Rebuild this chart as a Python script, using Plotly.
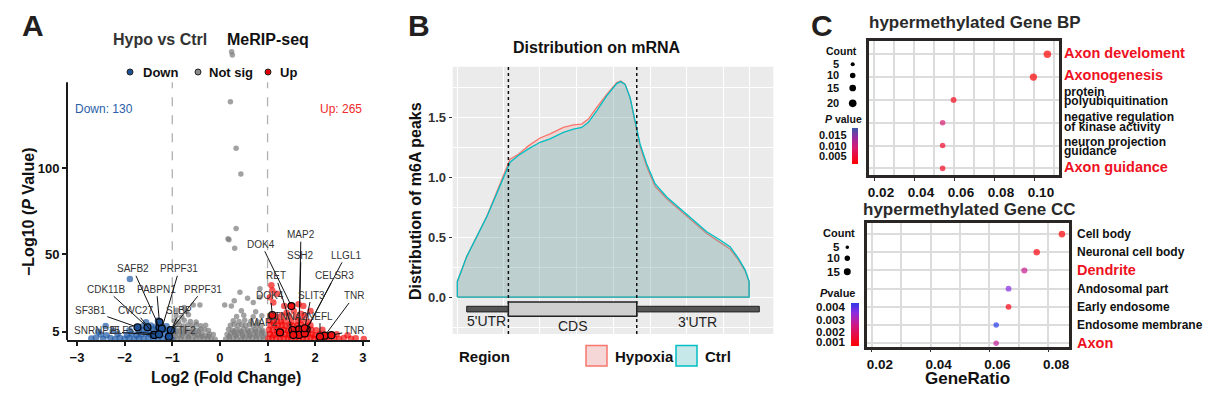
import math
import plotly.graph_objects as go

W, H = 1213, 398
FONT = "Liberation Sans, Arial, sans-serif"


def fx(px):
    return px / W


def fy(py):
    return 1 - py / H


# ======================= DATA =======================
# ---- Panel A: volcano (log2FC, -log10 P) ----
gray_pts = [
    (-0.98, 1.2), (-0.9, 0.6), (-0.82, 1.5), (-0.74, 0.8), (-0.66, 1.3), (-0.58, 0.5), (-0.5, 1.1), (-0.42, 1.6),
    (-0.34, 0.7), (-0.26, 1.2), (-0.18, 0.9), (-0.1, 0.6), (0.12, 0.8), (0.2, 1.4), (0.28, 0.7), (0.36, 1.2),
    (0.44, 0.5), (0.52, 1.5), (0.6, 0.9), (0.68, 1.3), (0.76, 0.6), (0.84, 1.1), (0.92, 0.8),
    (-0.95, 3.8), (-0.86, 3.2), (-0.78, 4.0), (-0.7, 3.5), (-0.62, 3.1), (-0.54, 3.9), (-0.46, 3.4), (-0.38, 3.7),
    (-0.3, 3.0), (-0.22, 3.6), (-0.14, 3.3), (0.15, 3.5), (0.23, 3.9), (0.31, 3.2), (0.39, 3.7), (0.47, 3.4),
    (0.55, 4.0), (0.63, 3.1), (0.71, 3.6), (0.79, 3.3), (0.87, 3.8), (0.95, 3.5),
    (-0.97, 6.2), (-0.88, 5.8), (-0.8, 6.5), (-0.72, 6.0), (-0.64, 5.6), (-0.56, 6.3), (-0.48, 5.9), (-0.4, 6.6),
    (-0.32, 6.1), (-0.24, 5.7), (0.18, 6.4), (0.26, 5.9), (0.34, 6.2), (0.42, 5.6), (0.5, 6.5), (0.58, 6.0),
    (0.66, 5.8), (0.74, 6.3), (0.82, 6.1), (0.9, 5.7),
    (-0.94, 8.6), (-0.85, 9.1), (-0.76, 8.3), (-0.67, 8.9), (-0.58, 8.5), (-0.49, 9.2), (-0.4, 8.4), (-0.3, 8.8),
    (0.22, 8.7), (0.3, 9.3), (0.38, 8.4), (0.46, 9.0), (0.54, 8.6), (0.62, 9.2), (0.7, 8.5), (0.78, 8.9), (0.86, 8.3),
    (-0.96, 11.2), (-0.87, 10.8), (-0.75, 11.6), (-0.62, 11.0), (-0.5, 10.6), (0.28, 11.4), (0.4, 10.9),
    (0.52, 11.7), (0.65, 11.1), (0.8, 10.7),
    (-0.92, 14.2), (-0.8, 13.6), (-0.66, 14.8), (0.35, 13.9), (0.5, 14.5), (0.7, 13.7), (0.88, 14.3),
    (-0.9, 17.5), (-0.7, 16.8), (0.45, 17.2), (0.75, 16.6),
    (-0.94, 2.3), (-0.8, 2.5), (-0.66, 2.2), (-0.52, 2.6), (-0.38, 2.3), (-0.24, 2.4), (0.2, 2.3), (0.34, 2.6),
    (0.48, 2.2), (0.62, 2.5), (0.76, 2.3), (0.9, 2.4), (-0.9, 4.9), (-0.74, 5.0), (-0.58, 4.8), (-0.44, 5.1),
    (0.3, 4.9), (0.45, 5.0), (0.6, 4.8), (0.75, 5.1), (0.88, 4.9),
    (-0.56, 20.5), (-0.42, 20.5), (-0.75, 19.0), (0.1, 20.5), (0.24, 20.0), (0.42, 28.0), (0.58, 24.5),
    (0.84, 30.0), (0.84, 25.0), (0.3, 23.0), (0.7, 22.0), (0.31, 53.5), (0.17, 59.0), (0.19, 58.5),
    (0.34, 65.0), (0.44, 96.7), (0.34, 111.6), (0.22, 138.7), (0.245, 167.8), (0.26, 165.9),
]
down_pts = [
    (-2.7, 1.0), (-2.6, 1.6), (-2.45, 0.7), (-2.3, 1.3), (-2.2, 0.8), (-2.1, 1.5), (-2.0, 0.9), (-1.9, 1.4),
    (-1.8, 0.6), (-1.7, 1.2), (-1.6, 0.8), (-1.5, 1.5), (-1.4, 0.7), (-1.3, 1.3), (-1.2, 0.9), (-1.1, 1.4),
    (-1.02, 0.8),
    (-2.5, 3.4), (-2.38, 2.9), (-2.15, 3.6), (-1.95, 3.1), (-1.85, 3.8), (-1.75, 3.0), (-1.65, 3.5),
    (-1.55, 3.9), (-1.45, 3.2), (-1.35, 3.7), (-1.25, 3.0), (-1.15, 3.6), (-1.05, 3.3),
    (-2.25, 5.6), (-1.9, 5.9), (-1.7, 5.4), (-1.6, 6.1), (-1.48, 5.7), (-1.38, 6.3), (-1.28, 5.5),
    (-1.18, 6.0), (-1.08, 5.8),
    (-1.62, 8.2), (-1.45, 8.6), (-1.35, 7.9), (-1.22, 8.4), (-1.12, 8.1),
    (-2.4, 8.3), (-2.55, 5.0), (-1.55, 10.5), (-1.3, 11.5), (-1.89, 35.6),
]
up_pts = [
    (1.02, 1.0), (1.1, 1.6), (1.18, 0.7), (1.26, 1.3), (1.34, 0.8), (1.42, 1.5), (1.5, 0.9), (1.58, 1.4),
    (1.66, 0.6), (1.74, 1.2), (1.82, 0.8), (1.9, 1.5), (1.98, 0.7), (2.06, 1.3), (2.14, 0.9), (2.22, 1.4),
    (2.3, 0.8), (2.4, 1.2), (2.5, 0.7), (2.6, 1.3), (2.75, 0.9), (2.85, 1.2), (3.02, 0.8),
    (1.05, 3.6), (1.13, 3.1), (1.21, 3.9), (1.29, 3.3), (1.37, 3.7), (1.45, 3.0), (1.53, 3.8), (1.61, 3.2),
    (1.69, 3.6), (1.77, 3.1), (1.85, 3.9), (1.93, 3.4), (2.0, 3.0), (2.1, 3.7), (2.2, 3.2), (2.45, 3.5),
    (2.68, 3.0),
    (1.03, 6.1), (1.11, 5.7), (1.19, 6.4), (1.27, 5.9), (1.35, 6.2), (1.43, 5.6), (1.51, 6.3), (1.59, 5.8),
    (1.67, 6.5), (1.75, 6.0), (1.83, 5.7), (1.92, 6.2), (2.02, 5.9), (2.15, 6.1),
    (1.06, 8.6), (1.14, 9.1), (1.22, 8.4), (1.3, 8.9), (1.38, 8.3), (1.46, 9.2), (1.54, 8.5), (1.62, 8.8),
    (1.7, 9.0), (1.8, 8.4), (1.9, 8.8),
    (1.04, 11.2), (1.12, 10.8), (1.2, 11.5), (1.28, 11.0), (1.36, 11.4), (1.5, 10.9), (1.64, 11.3),
    (1.72, 11.6), (1.85, 10.8),
    (1.08, 14.2), (1.18, 13.8), (1.3, 14.5), (1.45, 14.0), (1.6, 13.7), (1.78, 14.4),
    (1.08, 32.0), (1.1, 29.0), (1.2, 27.0), (1.05, 25.0), (1.12, 22.0), (1.35, 20.0), (1.55, 17.0),
    (1.7, 15.5), (1.75, 20.0), (1.4, 16.0), (1.65, 21.0), (1.9, 17.0),
]
down_genes = ["SF3B1", "CDK11B", "SAFB2", "PABPN1", "PRPF31", "PRPF31", "CWC27", "SLBP", "SNRNP25", "ELF5", "TTF2"]
down_gx = [-1.73, -1.52, -1.27, -1.27, -1.22, -1.03, -1.38, -1.07, -1.38, -1.28, -1.03]
down_gy = [7.6, 7.6, 7.6, 10.6, 6.8, 6.0, 3.1, 2.1, 3.1, 3.5, 6.0]
up_genes = ["DOK4", "MAP2", "SSH2", "LLGL1", "RET", "CELSR3", "DOK4", "SLIT3", "TNR", "MAP2", "CTNNA2", "NEFL", "TNR"]
up_gx = [1.5, 1.66, 1.66, 1.82, 1.52, 1.78, 1.1, 1.78, 2.2, 1.26, 1.54, 2.1, 2.34]
up_gy = [19.9, 6.4, 3.1, 6.4, 6.0, 4.0, 14.7, 7.0, 2.7, 4.6, 3.1, 2.1, 3.0]
n_down, n_up = 130, 265
fc_cut = 1

# ---- Panel B: metagene density ----
meta_x = [0, 3.2, 6.63, 10.06, 13.49, 16.34, 18.06, 20.91, 24.34, 28.34, 31.77, 36.34, 39.77, 42.63, 44.91,
          47.77, 51.2, 54.63, 56.0, 57.49, 59.2, 60.91, 62.63, 64.91, 67.77, 71.77, 76.34, 80.91, 85.49,
          90.06, 93.49, 96.34, 98.63, 100]
ctrl_d = [0.13, 0.337, 0.503, 0.668, 0.862, 1.028, 1.124, 1.18, 1.235, 1.29, 1.318, 1.373, 1.40, 1.414, 1.456,
          1.552, 1.677, 1.779, 1.796, 1.773, 1.663, 1.47, 1.276, 1.11, 0.945, 0.834, 0.738, 0.641, 0.544,
          0.475, 0.42, 0.323, 0.227, 0.13]
hypo_d = [0.13, 0.337, 0.503, 0.672, 0.876, 1.055, 1.15, 1.19, 1.26, 1.326, 1.36, 1.414, 1.436, 1.442, 1.483,
          1.58, 1.69, 1.787, 1.80, 1.775, 1.66, 1.456, 1.254, 1.088, 0.923, 0.82, 0.724, 0.622, 0.53,
          0.456, 0.40, 0.31, 0.218, 0.13]
cds_start, cds_end = 17.49, 61.49
track_start, track_end = 3.2, 103.5
region_names = ["5'UTR", "CDS", "3'UTR"]

# ---- Panel C: GO enrichment ----
bp_terms = ["Axon develoment", "Axonogenesis", "protein polyubiquitination",
            "negative regulation of kinase activity", "neuron projection guidance", "Axon guidance"]
bp_ratio = [0.1067, 0.0997, 0.0598, 0.0543, 0.0543, 0.0543]
bp_count = [19, 18, 11, 10, 10, 10]
bp_p = [0.0013, 0.0015, 0.003, 0.009, 0.004, 0.0035]
bp_highlight = ["Axon develoment", "Axonogenesis", "Axon guidance"]
bp_wrap = {"protein polyubiquitination": ["protein", "polyubiquitination"],
           "negative regulation of kinase activity": ["negative regulation", "of kinase activity"],
           "neuron projection guidance": ["neuron projection", "guidance"]}
bp_count_legend = [5, 10, 15, 20]
bp_p_ticks = [0.015, 0.010, 0.005]

cc_terms = ["Cell body", "Neuronal cell body", "Dendrite", "Andosomal part", "Early endosome",
            "Endosome membrane", "Axon"]
cc_ratio = [0.0847, 0.0761, 0.0719, 0.0665, 0.0665, 0.0623, 0.0623]
cc_count = [14, 13, 12, 11, 11, 10, 10]
cc_p = [0.0007, 0.0008, 0.0026, 0.0036, 0.0009, 0.0044, 0.0027]
cc_highlight = ["Dendrite", "Axon"]
cc_count_legend = [5, 10, 15]
cc_p_ticks = [0.004, 0.003, 0.002, 0.001]

# ======================= STYLE =======================
BLUE, RED, GRAY = "#1f5aa6", "#f20000", "#7a7a7a"
DARK = "#1a1a1a"
BP_SCALE = [[0, "#ff0000"], [0.45, "#d81a70"], [0.72, "#9a2a9e"], [1, "#3a55a8"]]
CC_SCALE = [[0, "#ff0000"], [0.5, "#cc1a88"], [0.78, "#8a2be2"], [1, "#2a3ae8"]]


def bp_size(c):
    return 1.6 * math.sqrt(c) + 0.5


def cc_size(c):
    return 2.05 * math.sqrt(c) - 1.0


fig = go.Figure()

# ---------- Panel A traces ----------
fig.add_trace(go.Scatter(x=[p[0] for p in gray_pts], y=[p[1] for p in gray_pts], mode="markers",
                         marker=dict(size=5.5, color=GRAY, opacity=0.7, line_width=0),
                         xaxis="x", yaxis="y", showlegend=False, hoverinfo="skip"))
fig.add_trace(go.Scatter(x=[p[0] for p in down_pts], y=[p[1] for p in down_pts], mode="markers",
                         marker=dict(size=6.5, color=BLUE, opacity=0.7, line_width=0),
                         xaxis="x", yaxis="y", showlegend=False, hoverinfo="skip"))
fig.add_trace(go.Scatter(x=[p[0] for p in up_pts], y=[p[1] for p in up_pts], mode="markers",
                         marker=dict(size=6.5, color=RED, opacity=0.65, line_width=0),
                         xaxis="x", yaxis="y", showlegend=False, hoverinfo="skip"))
fig.add_trace(go.Scatter(x=down_gx, y=down_gy, mode="markers",
                         marker=dict(size=7, color="#1d4f94", line=dict(color="black", width=1.2)),
                         xaxis="x", yaxis="y", showlegend=False, hoverinfo="skip"))
fig.add_trace(go.Scatter(x=up_gx, y=up_gy, mode="markers",
                         marker=dict(size=7, color="#ee1111", line=dict(color="black", width=1.2)),
                         xaxis="x", yaxis="y", showlegend=False, hoverinfo="skip"))

# ---------- Panel B traces ----------
fig.add_trace(go.Scatter(x=[0] + meta_x + [100, 0], y=[0] + hypo_d + [0, 0], mode="lines",
                         fill="toself", fillcolor="rgba(248,118,109,0.2)",
                         line=dict(color="#f8766d", width=1.3), xaxis="x2", yaxis="y2",
                         showlegend=False, hoverinfo="skip"))
fig.add_trace(go.Scatter(x=[0] + meta_x + [100, 0], y=[0] + ctrl_d + [0, 0], mode="lines",
                         fill="toself", fillcolor="rgba(0,191,196,0.2)",
                         line=dict(color="#00bfc4", width=1.3), xaxis="x2", yaxis="y2",
                         showlegend=False, hoverinfo="skip"))

# ---------- Panel C traces ----------
nbp = len(bp_terms)
bp_y = [nbp - 1 - i for i in range(nbp)]
fig.add_trace(go.Scatter(x=bp_ratio, y=bp_y, mode="markers", xaxis="x3", yaxis="y3",
                         marker=dict(size=[bp_size(c) for c in bp_count], color=bp_p,
                                     colorscale=BP_SCALE, cmin=0.0012, cmax=0.0182, line_width=0,
                                     showscale=True,
                                     colorbar=dict(x=fx(851.7), xanchor="left", y=fy(146.2),
                                                   yanchor="middle", len=35.7, lenmode="pixels",
                                                   thickness=5.6, thicknessmode="pixels",
                                                   showticklabels=False, ticks="", outlinewidth=0,
                                                   xpad=0, ypad=0)),
                         showlegend=False, hoverinfo="skip"))
ncc = len(cc_terms)
cc_y = [ncc - 1 - i for i in range(ncc)]
fig.add_trace(go.Scatter(x=cc_ratio, y=cc_y, mode="markers", xaxis="x4", yaxis="y4",
                         marker=dict(size=[cc_size(c) for c in cc_count], color=cc_p,
                                     colorscale=CC_SCALE, cmin=0.00065, cmax=0.0044, line_width=0,
                                     showscale=True,
                                     colorbar=dict(x=fx(850.7), xanchor="left", y=fy(324.3),
                                                   yanchor="middle", len=43.3, lenmode="pixels",
                                                   thickness=7.6, thicknessmode="pixels",
                                                   showticklabels=False, ticks="", outlinewidth=0,
                                                   xpad=0, ypad=0)),
                         showlegend=False, hoverinfo="skip"))

tickfont = dict(family=FONT, size=13, color="#111", weight="bold")

layout = dict(
    width=W, height=H, margin=dict(l=0, r=0, t=0, b=0, autoexpand=False),
    paper_bgcolor="white", plot_bgcolor="rgba(0,0,0,0)",
    font=dict(family=FONT, color="#111"),
    # Panel A
    xaxis=dict(domain=[fx(67), fx(370)], range=[-3.21, 3.15], anchor="y",
               tickvals=[-3, -2, -1, 0, 1, 2, 3], ticktext=["\u22123", "\u22122", "\u22121", "0", "1", "2", "3"],
               ticks="outside", ticklen=4, tickwidth=1.5, tickcolor=DARK, showgrid=False, zeroline=False,
               showline=True, linewidth=2, linecolor=DARK, tickfont=tickfont, automargin=False),
    yaxis=dict(domain=[fy(340.3), fy(44.5)], range=[0, 172], anchor="x",
               tickvals=[5, 50, 100], ticks="outside", ticklen=4, tickwidth=1.5, tickcolor=DARK,
               showgrid=False, zeroline=False, showline=False, tickfont=tickfont, automargin=False),
    # Panel B
    xaxis2=dict(domain=[fx(452.7), fx(773.3)], range=[-1.6, 108.3], anchor="y2",
                showticklabels=False, ticks="", tickvals=[0, 28.3, 53.5, 78.6, 100],
                showgrid=True, gridcolor="white", gridwidth=1.3, zeroline=False, showline=False,
                minor=dict(tickvals=[15.7, 40.9, 66.1, 91.2], showgrid=True, gridcolor="white",
                           gridwidth=0.6, ticks=""), automargin=False),
    yaxis2=dict(domain=[fy(334), fy(66.7)], range=[-0.308, 1.92], anchor="x2",
                tickvals=[0, 0.5, 1, 1.5], ticktext=["0.0", "0.5", "1.0", "1.5"],
                ticks="outside", ticklen=3, tickcolor="#333", showgrid=True, gridcolor="white",
                gridwidth=1.3, zeroline=False, showline=False,
                minor=dict(tickvals=[-0.25, 0.25, 0.75, 1.25, 1.75], showgrid=True,
                           gridcolor="white", gridwidth=0.6, ticks=""),
                tickfont=dict(family=FONT, size=13, color="#333", weight="bold"), automargin=False),
    # Panel C BP
    xaxis3=dict(domain=[fx(869), fx(1059)], range=[0.0175, 0.1125], anchor="y3",
                tickvals=[0.02, 0.04, 0.06, 0.08, 0.10], ticktext=["0.02", "0.04", "0.06", "0.08", "0.10"],
                ticks="outside", ticklen=3, tickcolor="#333", ticklabelshift=7,
                showgrid=True, gridcolor="#dcdcdc", gridwidth=1.5, zeroline=False,
                showline=True, mirror=True, linewidth=2.5, linecolor="#2b2626",
                minor=dict(dtick=0.01, tick0=0, showgrid=True, gridcolor="#dcdcdc", gridwidth=1.5, ticks=""),
                tickfont=dict(family=FONT, size=13.5, color="#111", weight="bold"), automargin=False),
    yaxis3=dict(domain=[fy(175), fy(41)], range=[-0.29, 5.58], anchor="x3",
                tickvals=list(range(nbp)), showticklabels=False, ticks="",
                showgrid=True, gridcolor="#dcdcdc", gridwidth=1.5, zeroline=False,
                showline=True, mirror=True, linewidth=2.5, linecolor="#2b2626", automargin=False),
    # Panel C CC
    xaxis4=dict(domain=[fx(867), fx(1069)], range=[0.0183, 0.0871], anchor="y4",
                tickvals=[0.02, 0.04, 0.06, 0.08], ticktext=["0.02", "0.04", "0.06", "0.08"],
                ticks="outside", ticklen=3, tickcolor="#333", ticklabelshift=8,
                showgrid=True, gridcolor="#dcdcdc", gridwidth=1.5, zeroline=False,
                showline=True, mirror=True, linewidth=2.5, linecolor="#2b2626",
                minor=dict(dtick=0.01, tick0=0, showgrid=True, gridcolor="#dcdcdc", gridwidth=1.5, ticks=""),
                tickfont=dict(family=FONT, size=13.5, color="#111", weight="bold"), automargin=False),
    yaxis4=dict(domain=[fy(346.7), fy(223.3)], range=[-0.19, 6.59], anchor="x4",
                tickvals=list(range(ncc)), showticklabels=False, ticks="",
                showgrid=True, gridcolor="#dcdcdc", gridwidth=1.5, zeroline=False,
                showline=True, mirror=True, linewidth=2.5, linecolor="#2b2626", automargin=False),
)
fig.update_layout(**layout)

shapes = []
ann = []


def text(px, py, s, size, color="#111", bold=False, xanchor="center", yanchor="middle", angle=0):
    ann.append(dict(x=fx(px), y=fy(py), xref="paper", yref="paper", text=s, showarrow=False,
                    xanchor=xanchor, yanchor=yanchor, textangle=angle,
                    font=dict(family=FONT, size=size, color=color, weight="bold" if bold else "normal")))


def dot(px, py, d, fill, line_color=None, lw=0):
    r = d / 2
    shapes.append(dict(type="circle", xref="paper", yref="paper", xsizemode="pixel", ysizemode="pixel",
                       xanchor=fx(px), yanchor=fy(py), x0=-r, x1=r, y0=-r, y1=r, fillcolor=fill,
                       line=dict(color=line_color or fill, width=lw)))


def rect(px0, py0, px1, py1, fill, line_color, lw):
    shapes.append(dict(type="rect", xref="paper", yref="paper", x0=fx(px0), x1=fx(px1), y0=fy(py1), y1=fy(py0),
                       fillcolor=fill, line=dict(color=line_color, width=lw)))


# ---------- Panel A decorations ----------
text(33, 26, "A", 30, "#231f20", bold=True)
text(160, 39, "Hypo vs Ctrl", 16, "#333", bold=True)
text(268, 39, "MeRIP-seq", 16, "#111", bold=True)
for cx, col, lbl, tx in [(130, "#1f4f95", "Down", 141), (198, "#8a8a8a", "Not sig", 207), (268, "#e00000", "Up", 278)]:
    dot(cx, 72, 6, col, "#222", 1)
    text(tx, 72, lbl, 13, "#111", bold=True, xanchor="left")
shapes.append(dict(type="line", xref="x domain", yref="y", x0=0, x1=0, y0=0, y1=150,
                   line=dict(color=DARK, width=2)))
for v in (-fc_cut, fc_cut):
    shapes.append(dict(type="line", xref="x", yref="y", x0=v, x1=v, y0=0, y1=150, layer="below",
                       line=dict(color="#b0b0b0", width=1.3, dash="dash")))
ann.append(dict(x=-3.08, y=134.5, xref="x", yref="y", text=f"Down: {n_down}", showarrow=False,
                xanchor="left", font=dict(family=FONT, size=12, color="#2a5ea8")))
ann.append(dict(x=3.02, y=134.5, xref="x", yref="y", text=f"Up: {n_up}", showarrow=False,
                xanchor="right", font=dict(family=FONT, size=12, color="#ee2a2a")))
text(226, 377, "Log2 (Fold Change)", 16, "#111", bold=True)
text(28, 212, "\u2212Log10 (<i>P</i> Value)", 16, "#111", bold=True, angle=-90)

down_lab_pos = [(-2.72, 17.2), (-2.39, 29.7), (-1.83, 41.6), (-1.33, 29.7), (-0.85, 41.6), (-0.35, 29.7),
                (-1.78, 17.2), (-0.85, 17.2), (-2.58, 5.6), (-2.06, 5.6), (-0.75, 5.6)]
up_lab_pos = [(0.87, 55.8), (1.7, 61.4), (1.7, 49.4), (2.64, 49.4), (1.17, 37.4), (2.41, 37.4), (1.06, 25.8),
              (1.92, 26.3), (2.82, 25.8), (0.93, 10.6), (1.4, 13.7), (2.1, 14.1), (2.82, 5.6)]
for genes, gx, gy, pos in [(down_genes, down_gx, down_gy, down_lab_pos), (up_genes, up_gx, up_gy, up_lab_pos)]:
    for g, x, y, (lx, ly) in zip(genes, gx, gy, pos):
        ann.append(dict(x=x, y=y, xref="x", yref="y", ax=lx, ay=ly, axref="x", ayref="y", text=g,
                        showarrow=True, arrowhead=0, arrowwidth=1, arrowcolor="#111", standoff=3,
                        font=dict(family=FONT, size=10, color="#333")))

# ---------- Panel B decorations ----------
text(419, 26, "B", 30, "#231f20", bold=True)
text(597, 48, "Distribution on mRNA", 16, "#111", bold=True)
text(415, 201, "Distribution of m6A peaks", 16, "#111", bold=True, angle=-90)
shapes.append(dict(type="rect", xref="x2 domain", yref="y2 domain", x0=0, x1=1, y0=0, y1=1,
                   fillcolor="#ebebeb", line_width=0, layer="below"))
for v in (cds_start, cds_end):
    shapes.append(dict(type="line", xref="x2", yref="y2 domain", x0=v, x1=v, y0=0, y1=1,
                       line=dict(color="#111", width=1.5, dash="dot")))
shapes.append(dict(type="rect", xref="x2", yref="y2", x0=track_start, x1=track_end, y0=-0.124, y1=-0.077,
                   fillcolor="#555555", line=dict(color="#222", width=1)))
shapes.append(dict(type="rect", xref="x2", yref="y2", x0=cds_start, x1=cds_end, y0=-0.16, y1=-0.041,
                   fillcolor="#cfcfcf", line=dict(color="#222", width=1.5)))
for name, xc, yc in zip(region_names, [10, 39.5, 82.3], [-0.2, -0.24, -0.21]):
    ann.append(dict(x=xc, y=yc, xref="x2", yref="y2", text=name, showarrow=False,
                    font=dict(family=FONT, size=14, color="#222")))
text(457, 356, "Region", 15, "#111", bold=True, xanchor="left")
rect(586, 345.5, 607, 366, "#f4d7d6", "#f8766d", 1.5)
text(613, 356, "Hypoxia", 15, "#111", bold=True, xanchor="left")
rect(676, 345.5, 697, 366, "#c6e8e8", "#00bfc4", 1.5)
text(703, 356, "Ctrl", 15, "#111", bold=True, xanchor="left")

# ---------- Panel C decorations ----------
text(822, 26, "C", 30, "#231f20", bold=True)
text(866.7, 22.7, "hypermethylated Gene BP", 17, "#2a2a2a", bold=True, xanchor="left")
text(860.7, 210, "hypermethylated Gene CC", 17, "#2a2a2a", bold=True, xanchor="left")
text(967, 378, "GeneRatio", 17, "#111", bold=True)

# BP term labels (right of the panel); two-line terms use tight line spacing
bp_label_py = {"Axon develoment": [53.2], "Axonogenesis": [74.5],
               "protein polyubiquitination": [92.5, 100.8],
               "negative regulation of kinase activity": [117.5, 126.5],
               "neuron projection guidance": [141.8, 150.8], "Axon guidance": [167.2]}
for term in bp_terms:
    if term in bp_highlight:
        text(1062, bp_label_py[term][0], term, 14.5, "#ee1122", bold=True, xanchor="left")
    else:
        for ln, py in zip(bp_wrap.get(term, [term]), bp_label_py[term]):
            text(1062, py, ln, 12, "#111", bold=True, xanchor="left")
for term, yv in zip(cc_terms, cc_y):
    hl = term in cc_highlight
    ann.append(dict(x=fx(1075), y=yv, xref="paper", yref="y4", text=term, showarrow=False, xanchor="left",
                    font=dict(family=FONT, size=14.5 if hl else 12, color="#ee1122" if hl else "#111",
                              weight="bold")))

text(841.7, 50.7, "Count", 10.5, "#111", bold=True)
for c, py in zip(bp_count_legend, [64.3, 75.5, 88, 103.3]):
    text(841, py, str(c), 11, "#111", bold=True, xanchor="right")
    dot(852.7, py, bp_size(c), "black")
text(843.3, 119, "<i>P</i> value", 10.5, "#111", bold=True)
for v, py in zip(bp_p_ticks, [135, 146, 156]):
    text(849.3, py, f"{v:.3f}", 11, "#111", bold=True, xanchor="right")

text(839.3, 232.7, "Count", 11, "#111", bold=True)
for c, py in zip(cc_count_legend, [247.3, 258.3, 271.7]):
    text(841.7, py, str(c), 11.5, "#111", bold=True, xanchor="right")
    dot(847.3, py, cc_size(c), "black")
text(837.3, 293.3, "<i>P</i>value", 11, "#111", bold=True)
for v, py in zip(cc_p_ticks, [307.3, 320, 331.7, 342]):
    text(847.3, py, f"{v:.3f}", 11.5, "#111", bold=True, xanchor="right")

fig.update_layout(shapes=shapes, annotations=ann)
fig.write_html("out.html", config={"displayModeBar": False},
               post_script="document.body.style.margin='0px';document.body.style.overflow='hidden';")
